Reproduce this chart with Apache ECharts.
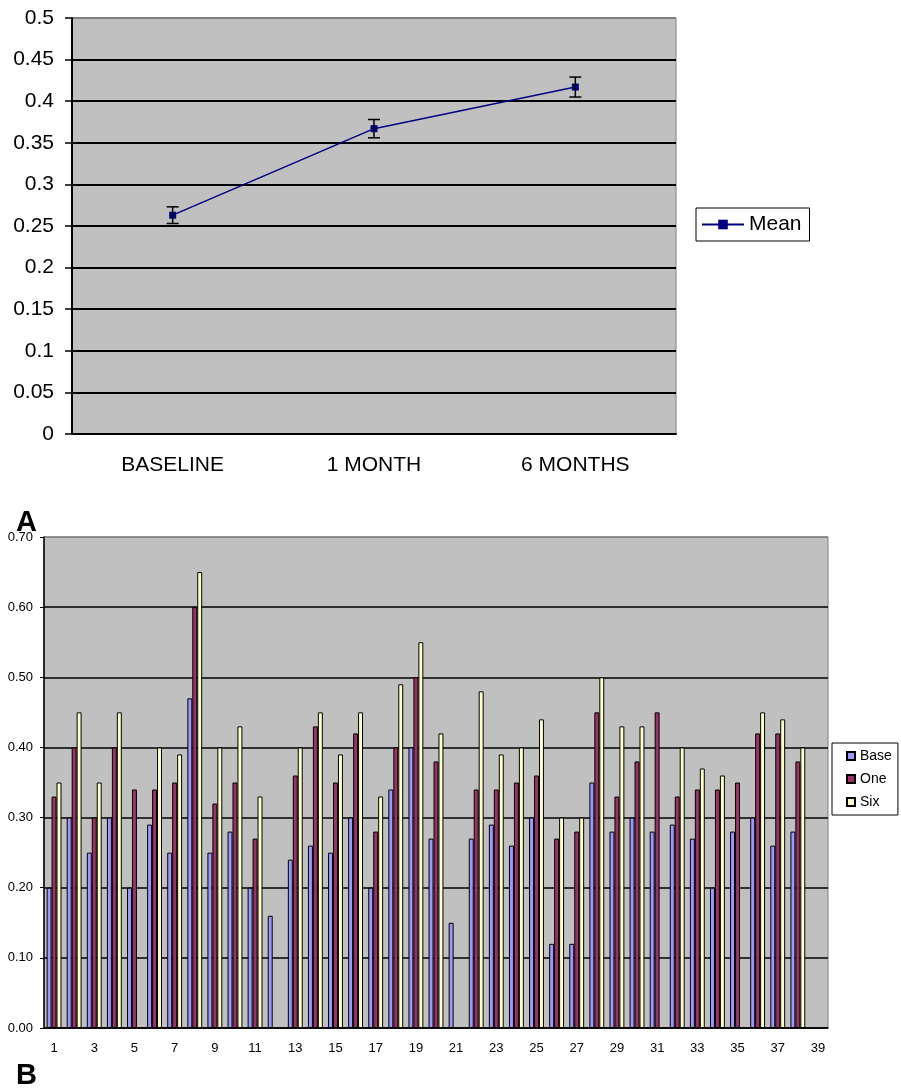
<!DOCTYPE html>
<html>
<head>
<meta charset="utf-8">
<title>Mean over time and per-subject values</title>
<script src="https://cdn.jsdelivr.net/npm/echarts@6/dist/echarts.min.js"></script>
<style>
    html, body { margin: 0; padding: 0; background: #fff; }
    #chart { width: 901px; height: 1089px; }
</style>
</head>
<body>
<div id="chart"></div>
<script>
// Panel A: mean with error bars
const timepoints = ['BASELINE', '1 MONTH', '6 MONTHS'];
const meanValues = [0.263, 0.367, 0.417];
const meanErrors = [0.010, 0.011, 0.012];
const yTicksA = [0, 0.05, 0.1, 0.15, 0.2, 0.25, 0.3, 0.35, 0.4, 0.45, 0.5];

// Panel B: per-subject values
const subjects = Array.from({ length: 39 }, (_, i) => String(i + 1));
const baseValues = [0.20, 0.30, 0.25, 0.30, 0.20, 0.29, 0.25, 0.47, 0.25, 0.28,
    0.20, 0.16, 0.24, 0.26, 0.25, 0.30, 0.20, 0.34, 0.40, 0.27,
    0.15, 0.27, 0.29, 0.26, 0.30, 0.12, 0.12, 0.35, 0.28, 0.30,
    0.28, 0.29, 0.27, 0.20, 0.28, 0.30, 0.26, 0.28, null];
const oneValues = [0.33, 0.40, 0.30, 0.40, 0.34, 0.34, 0.35, 0.60, 0.32, 0.35,
    0.27, null, 0.36, 0.43, 0.35, 0.42, 0.28, 0.40, 0.50, 0.38,
    null, 0.34, 0.34, 0.35, 0.36, 0.27, 0.28, 0.45, 0.33, 0.38,
    0.45, 0.33, 0.34, 0.34, 0.35, 0.42, 0.42, 0.38, null];
const sixValues = [0.35, 0.45, 0.35, 0.45, null, 0.40, 0.39, 0.65, 0.40, 0.43,
    0.33, null, 0.40, 0.45, 0.39, 0.45, 0.33, 0.49, 0.55, 0.42,
    null, 0.48, 0.39, 0.40, 0.44, 0.30, 0.30, 0.50, 0.43, 0.43,
    null, 0.40, 0.37, 0.36, null, 0.45, 0.44, 0.40, null];

const FONT = '"Liberation Sans", Arial, sans-serif';

const gridLineColors = (count) => {
    // top line is the grey plot border, the rest are black
    const c = [];
    for (let i = 0; i < count - 1; i++) c.push('#000');
    c.push('#808080');
    return c;
};

const errorData = meanValues.map((m, i) => [i, m - meanErrors[i], m + meanErrors[i]]);

const myChart = echarts.init(document.getElementById('chart'));

const option = {
    backgroundColor: '#fff',
    animation: false,
    textStyle: { fontFamily: FONT },
    title: [
        { text: 'A', left: 11, top: 503, textStyle: { fontFamily: FONT, fontSize: 29, fontWeight: 'bold', color: '#000' } },
        { text: 'B', left: 11, top: 1056, textStyle: { fontFamily: FONT, fontSize: 29, fontWeight: 'bold', color: '#000' } }
    ],
    legend: [
        {
            data: ['Mean'],
            left: 696,
            top: 208,
            padding: [6, 8, 6, 5],
            itemWidth: 42,
            itemHeight: 12,
            borderColor: '#000',
            borderWidth: 1,
            textStyle: { fontFamily: FONT, fontSize: 21, color: '#000' }
        },
        {
            data: ['Base', 'One', 'Six'],
            orient: 'vertical',
            left: 832,
            top: 743,
            padding: [6, 6, 6, 14],
            itemWidth: 8,
            itemHeight: 8,
            itemGap: 9,
            icon: 'rect',
            borderColor: '#000',
            borderWidth: 1,
            textStyle: { fontFamily: FONT, fontSize: 14, color: '#000' }
        }
    ],
    grid: [
        {
            left: 72, top: 18, width: 604, height: 416,
            show: true, backgroundColor: '#C0C0C0', borderColor: '#808080', borderWidth: 1
        },
        {
            left: 44, top: 537, width: 784, height: 491,
            show: true, backgroundColor: '#C0C0C0', borderColor: '#808080', borderWidth: 1
        }
    ],
    xAxis: [
        {
            gridIndex: 0,
            type: 'category',
            data: timepoints,
            axisLine: { lineStyle: { color: '#000', width: 2 } },
            axisTick: { length: 8, lineStyle: { color: '#000', width: 1.5 } },
            axisLabel: { color: '#000', fontFamily: FONT, fontSize: 21, margin: 21 }
        },
        {
            gridIndex: 1,
            type: 'category',
            data: subjects,
            axisLine: { lineStyle: { color: '#000', width: 1.5 } },
            axisTick: { interval: 0, length: 5, lineStyle: { color: '#000' } },
            axisLabel: { interval: 1, color: '#000', fontFamily: FONT, fontSize: 13, margin: 14 }
        }
    ],
    yAxis: [
        {
            gridIndex: 0,
            type: 'value',
            min: 0,
            max: 0.5,
            interval: 0.05,
            axisLine: { show: true, lineStyle: { color: '#000', width: 2 } },
            axisTick: { show: true, length: 7, lineStyle: { color: '#000', width: 1.5 } },
            axisLabel: {
                color: '#000', fontFamily: FONT, fontSize: 21, margin: 18,
                formatter: (v) => String(+v.toFixed(2))
            },
            splitLine: { lineStyle: { color: gridLineColors(yTicksA.length), width: 2 } }
        },
        {
            gridIndex: 1,
            type: 'value',
            min: 0,
            max: 0.7,
            interval: 0.1,
            axisLine: { show: true, lineStyle: { color: '#000', width: 1.5 } },
            axisTick: { show: true, length: 4, lineStyle: { color: '#000' } },
            axisLabel: {
                color: '#000', fontFamily: FONT, fontSize: 13, margin: 11,
                formatter: (v) => v.toFixed(2)
            },
            splitLine: { lineStyle: { color: gridLineColors(8), width: 1.5 } }
        }
    ],
    series: [
        {
            name: 'Mean',
            type: 'line',
            xAxisIndex: 0,
            yAxisIndex: 0,
            data: meanValues,
            symbol: 'rect',
            symbolSize: 7,
            itemStyle: { color: '#000080' },
            lineStyle: { color: '#000080', width: 1.5 },
            z: 3
        },
        {
            name: 'Mean error',
            type: 'custom',
            xAxisIndex: 0,
            yAxisIndex: 0,
            data: errorData,
            z: 4,
            renderItem: (params, api) => {
                const lo = api.coord([api.value(0), api.value(1)]);
                const hi = api.coord([api.value(0), api.value(2)]);
                const half = 6;
                const style = { stroke: '#000', lineWidth: 1.5 };
                return {
                    type: 'group',
                    children: [
                        { type: 'line', shape: { x1: lo[0], y1: lo[1], x2: hi[0], y2: hi[1] }, style },
                        { type: 'line', shape: { x1: lo[0] - half, y1: lo[1], x2: lo[0] + half, y2: lo[1] }, style },
                        { type: 'line', shape: { x1: hi[0] - half, y1: hi[1], x2: hi[0] + half, y2: hi[1] }, style }
                    ]
                };
            }
        },
        {
            name: 'Base',
            type: 'bar',
            xAxisIndex: 1,
            yAxisIndex: 1,
            data: baseValues,
            barGap: '0%',
            barCategoryGap: '26%',
            itemStyle: { color: '#9999FF', borderColor: '#000', borderWidth: 1 }
        },
        {
            name: 'One',
            type: 'bar',
            xAxisIndex: 1,
            yAxisIndex: 1,
            data: oneValues,
            barGap: '0%',
            barCategoryGap: '26%',
            itemStyle: { color: '#993366', borderColor: '#000', borderWidth: 1 }
        },
        {
            name: 'Six',
            type: 'bar',
            xAxisIndex: 1,
            yAxisIndex: 1,
            data: sixValues,
            barGap: '0%',
            barCategoryGap: '26%',
            itemStyle: { color: '#FFFFCC', borderColor: '#000', borderWidth: 1 }
        }
    ]
};

myChart.setOption(option);
</script>
</body>
</html>
